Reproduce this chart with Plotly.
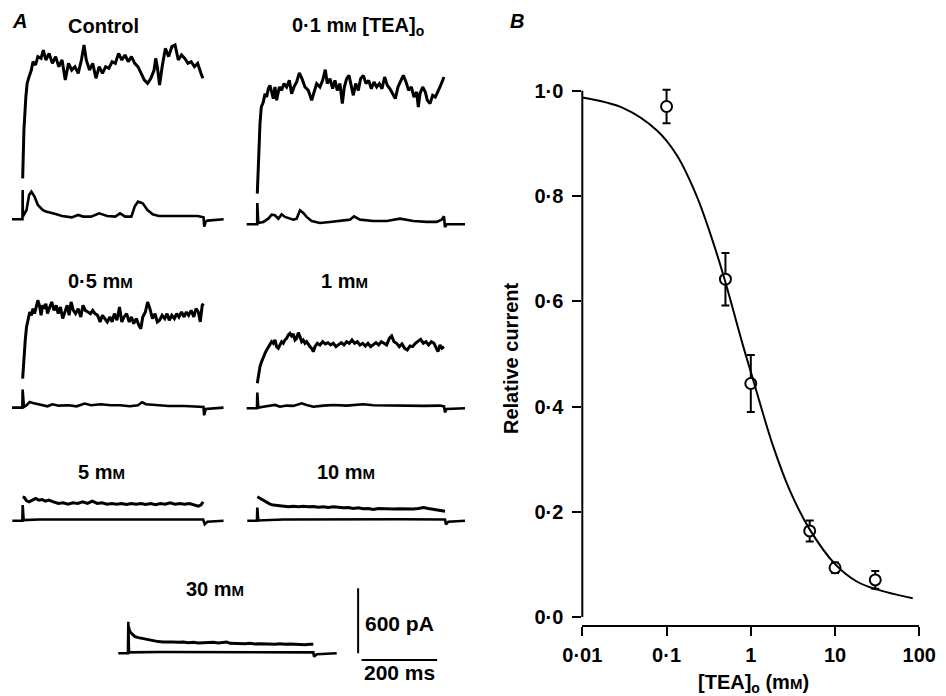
import plotly.graph_objects as go

W, H = 946, 696          # browser window
PAGE_MARGIN = 8          # default body margin of the html page
FW, FH = W - PAGE_MARGIN, H - PAGE_MARGIN

# ---------------- Panel A data: time (ms from pulse onset), current (pA above holding level)
CTRL_UP_T = [0,3.5,8.8,12.3,17.6,23.8,28.2,35.3,41.5,50.3,56.4,63.5,72.3,81.1,90,98.8,107.6,116.4,125.2,134.1,
             142.9,151.7,160.5,167.6,173.8,182.6,191.4,200.2,209,217.9,226.7,235.5,244.3,253.1,262,270.8,279.6,288.4,297.2,306.1,
             314.9,323.7,332.5,341.3,350.2,359,363.4,367.8,374,381,389.8,398.7,407.5,416.3,425.1,433.9,442.8,451.6,460.4,469.2,
             478,486.9,492.2]
CTRL_UP_I = [378,825,1132,1255,1317,1378,1455,1425,1502,1486,1563,1471,1532,1440,1502,1409,1471,1286,1440,1378,
             1409,1348,1471,1609,1471,1378,1440,1302,1409,1348,1409,1394,1455,1440,1532,1471,1517,1455,1502,1440,
             1409,1348,1286,1255,1302,1378,1486,1409,1240,1409,1578,1502,1594,1609,1471,1517,1486,1440,1455,1409,
             1440,1348,1302]
CTRL_LO_T = [-29,-0.5,0,0.5,10.6,17.6,23.8,32.6,41.5,54.7,63.5,76.7,90,107.6,134,151.7,165,187,209,231,
             253,266,280,297,306,315,328,341,355,372,399,443,478,494,496,500,505,549]
CTRL_LO_I = [0,0,271,25,86,225,255,209,132,86,71,62,49,31,18,40,25,25,55,31,
             25,55,25,25,117,163,148,86,46,31,31,37,31,18,-68,-21,-12,0]

TEA01_UP_T = [0,3.5,7.1,10.6,15.9,20.3,24.7,29.1,33.5,37.9,42.3,46.7,51.2,58.2,64.4,70.6,77.6,84.7,90.8,97,
              104.1,111.1,118.2,126.1,134.9,143.8,149.9,157,165.8,172.9,179.9,185.2,192.3,199.3,205.5,211.7,218.7,224.9,230.2,236.4,
              242.6,248.7,254,260.2,267.2,273.4,280.5,287.5,294.6,301.6,308.7,315.8,322.8,329.9,336.9,344,351,358.1,365.1,372.2,
              379.3,386.3,393.4,400.4,407.5,414.5,421.6,426,430.4,437.5,444.5,449.8,456.9,463.9,471,478,483.3,488.6,493.9]
TEA01_UP_I = [283,683,929,1083,1129,1206,1175,1252,1283,1222,1160,1268,1145,1268,1237,1299,1268,1329,1206,1268,
              1314,1397,1345,1268,1237,1145,1222,1299,1268,1329,1428,1299,1345,1252,1329,1237,1299,1114,1268,1345,
              1375,1268,1191,1299,1237,1345,1375,1299,1329,1252,1314,1268,1299,1252,1360,1283,1252,1206,1160,1268,
              1329,1375,1314,1237,1268,1175,1222,1083,1206,1268,1222,1145,1114,1191,1175,1222,1268,1314,1360]
TEA01_LO_T = [-28.2,-0.3,0,2.6,15.9,29.1,37.9,46.7,55.6,64.4,73.2,86.4,95.3,104.1,112.9,121.7,130.5,143.8,165.8,192.3,
              218.7,245.2,255.8,271.7,306.9,342.2,377.5,412.8,448.1,474.5,487.7,493.9,496.5,500.9,549.5]
TEA01_LO_I = [0,0,197,12,22,52,89,83,52,92,68,52,43,52,129,105,68,31,12,22,
              31,43,74,43,31,31,52,31,22,22,43,74,-25,0,0]

TEA05_UP_T = [0,3.5,7.1,10.6,15,19.4,23.8,28.2,32.6,37,41.5,45.9,50.3,54.7,59.1,63.5,67.9,74.1,79.4,85.6,
              91.7,97,103.2,109.4,116.4,121.7,127,132.3,138.5,144.6,151.7,158.8,164.9,171.1,178.2,185.2,191.4,197.6,204.6,211.7,
              217.9,224,231.1,238.2,244.3,250.5,257.5,264.6,270.8,276.9,284,291.1,297.2,303.4,310.5,317.5,322.8,328.1,335.2,341.3,
              347.5,354.6,361.6,367.8,374,381,388.1,394.3,400.4,407.5,414.5,420.7,426.9,433.9,441,447.2,453.3,460.4,467.4,473.6,
              479.8,485.1,490.4,493.9]
TEA05_UP_I = [268,468,622,745,822,883,852,914,868,929,991,945,852,945,914,960,868,929,975,898,
              945,868,929,822,898,945,852,975,898,868,914,837,945,898,883,868,898,868,852,791,
              852,822,791,837,791,868,806,929,791,837,868,791,837,775,822,760,729,837,883,975,
              914,822,868,791,806,852,822,868,806,852,822,868,837,883,837,883,852,898,837,914,
              883,791,945,960]
TEA05_LO_T = [-29.1,-0.9,0,3.5,10.6,19.4,28.2,41.5,54.7,67.9,81.1,98.8,125.2,147.3,169.3,186.9,213.4,239.9,266.3,292.8,
              314.9,326.3,336.9,363.4,398.7,442.8,478,493.9,495.7,500.1,548.6]
TEA05_LO_I = [0,0,166,6,22,52,43,31,22,12,31,18,22,12,37,22,31,22,22,12,
              22,49,31,22,15,15,9,6,-71,-12,0]

TEA1_UP_T = [0,3.5,7.1,11.5,15.9,20.3,24.7,29.1,33.5,37.9,42.3,46.7,51.2,55.6,60,64.4,68.8,73.2,77.6,82,
             86.4,90.8,95.3,99.7,104.1,108.5,112.9,117.3,121.7,126.1,130.5,134.9,139.4,143.8,148.2,152.6,158.8,165.8,172.9,179.9,
             187,194,201.1,208.1,215.2,222.3,229.3,236.4,243.4,250.5,257.5,264.6,271.7,278.7,285.8,292.8,299.9,306.9,314,321,
             328.1,335.2,342.2,349.3,355.4,361.6,368.7,375.7,382.8,389.8,396.9,403.9,411,418.1,425.1,432.2,439.2,446.3,453.3,460.4,
             467.4,472.7,478,483.3,488.6,493.9]
TEA1_UP_I = [231,323,385,431,477,508,538,563,585,615,600,631,569,554,585,615,600,631,646,677,
             692,668,686,631,646,698,662,615,631,600,615,585,569,554,523,569,600,585,615,594,
             606,585,600,569,585,606,585,615,600,631,600,615,585,600,575,600,569,585,606,585,
             615,600,585,646,668,615,600,569,594,554,538,575,569,600,615,637,600,615,585,615,
             600,554,523,585,554,569]
TEA1_LO_T = [-28.2,-0.9,0,2.6,15.9,33.5,46.7,59.9,77.6,95.3,117.3,130.5,148.2,174.6,201.1,236.4,280.5,306.9,351,395.2,
             439.2,483.3,493.9,496.5,500.9,549.5]
TEA1_LO_I = [0,0,145,6,15,25,31,15,25,22,46,31,15,25,31,25,37,28,25,25,
             22,25,18,-37,-6,0]

TEA5_UP_T = [0,4.4,10.6,17.6,26.5,35.3,44.1,52.9,61.7,70.6,83.8,97,110.3,123.5,136.7,149.9,163.2,176.4,189.6,202.9,
             216.1,229.3,242.6,255.8,269,282.2,295.5,308.7,321.9,335.2,348.4,361.6,374.9,388.1,401.3,414.5,427.8,441,454.2,467.4,
             478,485.1,491.3]
TEA5_UP_I = [222,215,185,175,191,206,191,197,182,191,175,160,166,154,166,160,175,160,182,160,
             166,154,160,154,160,151,160,154,160,151,160,148,160,154,166,154,160,154,160,145,
             135,145,175]
TEA5_LO_T = [-28.2,-0.9,0,2.6,44.1,132.3,220.5,308.7,396.9,491.3,495.7,502.8,546.8]
TEA5_LO_I = [0,0,145,6,12,12,15,15,15,12,-31,-9,0]

TEA10_UP_T = [0,7.1,15.9,24.7,33.5,42.3,55.6,68.8,82,95.3,108.5,121.7,134.9,148.2,161.4,174.6,187.9,201.1,214.3,227.6,
              240.8,254,267.2,280.5,293.7,306.9,320.2,333.4,346.6,359.9,373.1,386.3,399.6,412.8,426,439.2,452.5,465.7,478.9,492.2,
              496.6]
TEA10_UP_I = [222,206,191,166,154,145,138,135,129,135,129,135,129,132,126,129,123,129,123,120,
              123,114,120,111,114,105,114,111,114,108,111,108,111,108,114,123,114,105,98,92,
              89]
TEA10_LO_T = [-26.5,-0.9,0,2.6,68.8,201.1,377.5,496.6,499.2,505.4,549.5]
TEA10_LO_I = [0,0,123,3,12,15,15,12,-34,-9,0]

TEA30_UP_T = [0.8,2.6,6.2,11.5,17.6,26.5,35.3,44.1,52.9,61.7,70.6,79.4,92.6,105.8,119.1,132.3,145.5,158.8,172,185.2,198.5,
              211.7,224.9,238.2,251.4,260.2,269,282.2,295.5,308.7,321.9,335.2,348.4,361.6,374.9,388.1,401.3,414.5,427.8,441,454.2,
              467.4,480.7,489.5]
TEA30_UP_I = [246,215,191,169,154,145,138,135,129,123,117,108,105,108,105,102,105,98,102,95,98,
              95,102,95,102,105,92,89,92,89,92,86,89,86,89,83,89,83,86,83,86,
              80,83,83]
TEA30_LO_T = [-26.5,-0.9,0,1.8,83.8,216.1,348.4,489.5,491.3,498.4,551.3]
TEA30_LO_I = [0,0,292,9,12,12,12,9,-31,-9,0]

SMALL_M = "<span style='font-size:15px'>M</span>"
PANEL_LABELS = ["Control",
                "0·1 m" + SMALL_M + " [TEA]<sub>o</sub>",
                "0·5 m" + SMALL_M,
                "1 m" + SMALL_M,
                "5 m" + SMALL_M,
                "10 m" + SMALL_M,
                "30 m" + SMALL_M]

SCALE_PA = 600
SCALE_MS = 200

# ---------------- Panel B data
TEA_MM = [0.1, 0.5, 1, 5, 10, 30]
REL_CURRENT = [0.970, 0.642, 0.444, 0.164, 0.094, 0.071]
REL_SEM = [0.032, 0.050, 0.054, 0.020, 0.010, 0.017]
FIT_X = [0.01, 0.0307, 0.0764, 0.132, 0.228, 0.328, 0.472, 0.815, 1, 1.85, 2.92, 5.04, 10, 18.1, 31.2, 83.5]
FIT_Y = [0.987, 0.967, 0.925, 0.878, 0.800, 0.730, 0.650, 0.514, 0.466, 0.324, 0.240, 0.166, 0.101, 0.068, 0.053, 0.036]
X_TICKS = [0.01, 0.1, 1, 10, 100]
X_TICK_TEXT = ["0·01", "0·1", "1", "10", "100"]
Y_TICKS = [0, 0.2, 0.4, 0.6, 0.8, 1.0]
Y_TICK_TEXT = ["0·0", "0·2", "0·4", "0·6", "0·8", "1·0"]

# ---------------- layout constants (window pixels)
PX_PER_MS = 0.378
PX_PER_PA = 0.1083
ONSET_PX = [(16.0, 219.3), (257.3, 224.3), (16.0, 407.6), (257.3, 408.3),
            (16.7, 520.8), (257.3, 520.8), (128.3, 653.3)]
LABEL_PX = [(103, 26), (358, 26), (100, 281), (344, 281), (101, 472), (346, 472), (215, 589)]
X_RANGE = [-40, 560]
X_RANGE_LAST = [-40, 860]
Y_RANGE = [-150, 1700]
BAR_X = 608      # ms (in 30 mM panel coordinates)
BAR_Y = -62      # pA

FONT = "Liberation Sans, Arial, sans-serif"


def fx(px):
    return (px - PAGE_MARGIN) / FW


def fy(py):
    return 1 - (py - PAGE_MARGIN) / FH


traces_A = [
    (CTRL_UP_T, CTRL_UP_I, CTRL_LO_T, CTRL_LO_I),
    (TEA01_UP_T, TEA01_UP_I, TEA01_LO_T, TEA01_LO_I),
    (TEA05_UP_T, TEA05_UP_I, TEA05_LO_T, TEA05_LO_I),
    (TEA1_UP_T, TEA1_UP_I, TEA1_LO_T, TEA1_LO_I),
    (TEA5_UP_T, TEA5_UP_I, TEA5_LO_T, TEA5_LO_I),
    (TEA10_UP_T, TEA10_UP_I, TEA10_LO_T, TEA10_LO_I),
    (TEA30_UP_T, TEA30_UP_I, TEA30_LO_T, TEA30_LO_I),
]

fig = go.Figure()
layout = {}
annotations = []


def ann(text, px, py, size=20, xanchor="center", yanchor="middle", angle=0):
    annotations.append(dict(text=text, x=fx(px), y=fy(py), xref="paper", yref="paper",
                            xanchor=xanchor, yanchor=yanchor, showarrow=False, textangle=angle,
                            borderpad=0, font=dict(family=FONT, size=size, color="black")))


for i, (ut, ui, lt, li) in enumerate(traces_A, start=1):
    xs, ys = ONSET_PX[i - 1]
    xr = X_RANGE_LAST if i == 7 else X_RANGE
    xd = [fx(xs + xr[0] * PX_PER_MS), fx(xs + xr[1] * PX_PER_MS)]
    yd = [fy(ys - Y_RANGE[0] * PX_PER_PA), fy(ys - Y_RANGE[1] * PX_PER_PA)]
    xd = [max(0.0, xd[0]), min(1.0, xd[1])]
    xa = "x" if i == 1 else f"x{i}"
    ya = "y" if i == 1 else f"y{i}"
    layout["xaxis" if i == 1 else f"xaxis{i}"] = dict(domain=xd, range=xr, visible=False, anchor=ya,
                                                      fixedrange=True, automargin=False)
    layout["yaxis" if i == 1 else f"yaxis{i}"] = dict(domain=yd, range=Y_RANGE, visible=False, anchor=xa,
                                                      fixedrange=True, automargin=False)
    fig.add_trace(go.Scatter(x=lt, y=li, mode="lines", line=dict(color="black", width=2.6),
                             xaxis=xa, yaxis=ya, showlegend=False, hoverinfo="skip", cliponaxis=False))
    fig.add_trace(go.Scatter(x=ut, y=ui, mode="lines", line=dict(color="black", width=3.0),
                             xaxis=xa, yaxis=ya, showlegend=False, hoverinfo="skip"))
    lx, ly = LABEL_PX[i - 1]
    ann("<b>" + PANEL_LABELS[i - 1] + "</b>", lx, ly)

# scale bars in the 30 mM panel coordinates
fig.add_trace(go.Scatter(x=[BAR_X, BAR_X], y=[0, SCALE_PA], mode="lines",
                         line=dict(color="black", width=2), xaxis="x7", yaxis="y7",
                         showlegend=False, hoverinfo="skip"))
fig.add_trace(go.Scatter(x=[BAR_X + 9, BAR_X + 9 + SCALE_MS], y=[BAR_Y, BAR_Y], mode="lines",
                         line=dict(color="black", width=2), xaxis="x7", yaxis="y7",
                         showlegend=False, hoverinfo="skip"))
ann(f"<b>{SCALE_PA} pA</b>", 364, 623, size=21, xanchor="left")
ann(f"<b>{SCALE_MS} ms</b>", 399.5, 672.5, size=21)

# ---------------- Panel B
X0PX, X1PX = 582.3, 919.3
Y0PX, PX_PER_UNIT = 617.3, 526.6
Y_TOP = 1.012
layout["xaxis8"] = dict(type="log", range=[-2, 2], domain=[fx(X0PX), fx(X1PX)], anchor="free",
                        position=fy(625.7), showline=True, linecolor="black", linewidth=2,
                        ticks="outside", ticklen=9, tickwidth=2, tickcolor="black",
                        tickvals=X_TICKS, ticktext=["<b>" + t + "</b>" for t in X_TICK_TEXT],
                        tickfont=dict(family=FONT, size=20, color="black"),
                        showgrid=False, zeroline=False, fixedrange=True, ticklabelstandoff=2,
                        automargin=False)
layout["yaxis8"] = dict(range=[0, Y_TOP], domain=[fy(Y0PX), fy(Y0PX - Y_TOP * PX_PER_UNIT)],
                        anchor="x8", showline=False, ticks="outside", ticklen=9, tickwidth=2,
                        tickcolor="black", tickvals=Y_TICKS,
                        ticktext=["<b>" + t + "</b>" for t in Y_TICK_TEXT],
                        tickfont=dict(family=FONT, size=20, color="black"),
                        showgrid=False, zeroline=False, fixedrange=True, ticklabelstandoff=5,
                        automargin=False)

fig.add_trace(go.Scatter(x=TEA_MM, y=REL_CURRENT, mode="markers", xaxis="x8", yaxis="y8",
                         marker=dict(symbol="circle", size=11, color="white",
                                     line=dict(color="black", width=2)),
                         error_y=dict(type="data", array=REL_SEM, color="black", thickness=2, width=4),
                         showlegend=False, hoverinfo="skip"))
fig.add_trace(go.Scatter(x=FIT_X, y=FIT_Y, mode="lines", xaxis="x8", yaxis="y8",
                         line=dict(color="black", width=2, shape="spline", smoothing=1.0),
                         showlegend=False, hoverinfo="skip"))

shapes = [dict(type="line", xref="x8 domain", yref="y8", x0=0, x1=0, y0=0, y1=1.0,
               line=dict(color="black", width=2))]

ann("<b>Relative current</b>", 511, 358, size=20, angle=-90)
ann("<b>[TEA]<sub>o</sub> (m" + SMALL_M + ")</b>", 753, 683, size=20)
ann("<b><i>A</i></b>", 19, PAGE_MARGIN + 1, size=20, yanchor="top")
ann("<b><i>B</i></b>", 517, PAGE_MARGIN + 1, size=20, yanchor="top")

fig.update_layout(width=FW, height=FH, margin=dict(l=0, r=0, t=0, b=0, pad=0, autoexpand=False),
                  paper_bgcolor="white", plot_bgcolor="rgba(0,0,0,0)",
                  font=dict(family=FONT, color="black"),
                  annotations=annotations, shapes=shapes, showlegend=False, **layout)

fig.write_html("out.html")
